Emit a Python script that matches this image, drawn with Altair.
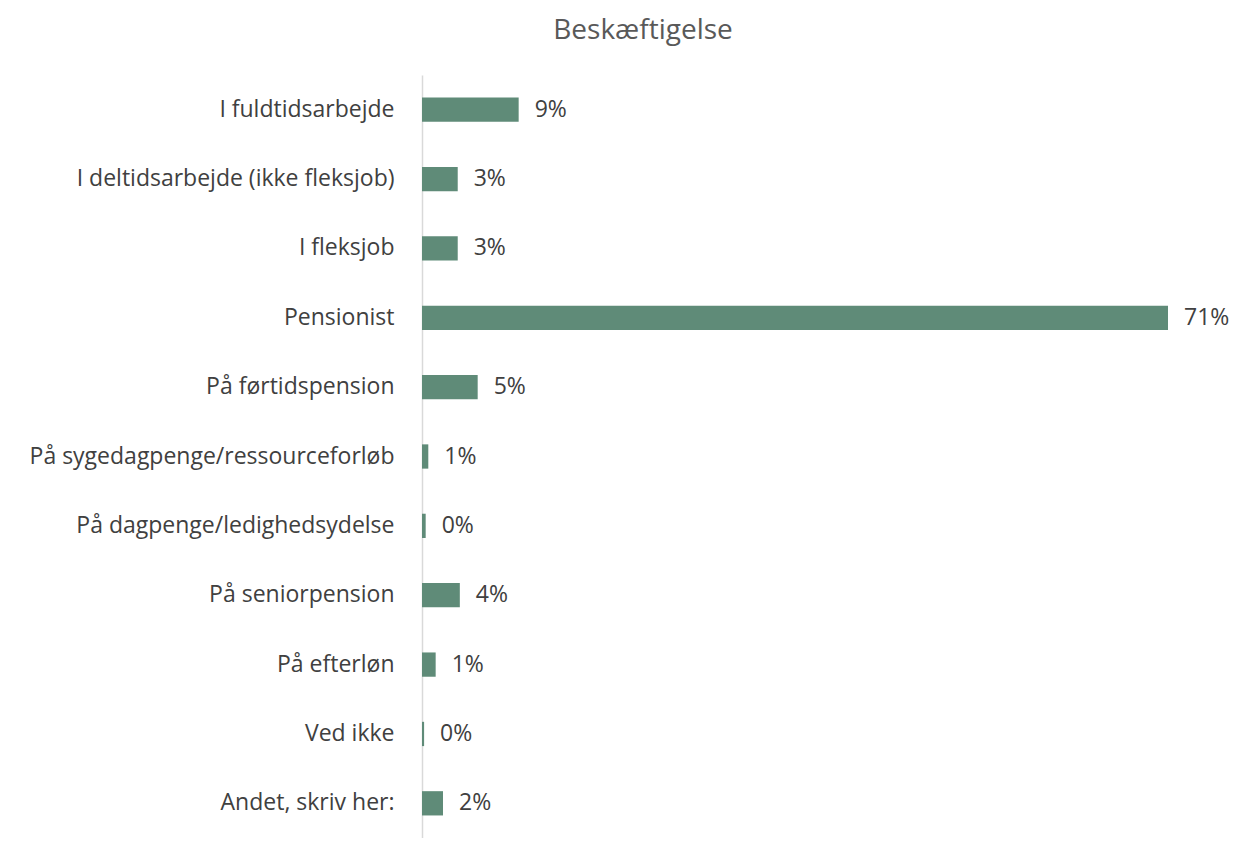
import altair as alt
import pandas as pd

categories = [
    "I fuldtidsarbejde",
    "I deltidsarbejde (ikke fleksjob)",
    "I fleksjob",
    "Pensionist",
    "På førtidspension",
    "På sygedagpenge/ressourceforløb",
    "På dagpenge/ledighedsydelse",
    "På seniorpension",
    "På efterløn",
    "Ved ikke",
    "Andet, skriv her:",
]
values = [9.2, 3.4, 3.4, 71.0, 5.3, 0.6, 0.35, 3.6, 1.3, 0.2, 2.0]
labels = ["9%", "3%", "3%", "71%", "5%", "1%", "0%", "4%", "1%", "0%", "2%"]

df = pd.DataFrame({"cat": categories, "val": values, "lab": labels})

FONT = "Open Sans"

y = alt.Y(
    "cat:N",
    sort=categories,
    scale=alt.Scale(paddingInner=0.65, paddingOuter=0.325),
    axis=alt.Axis(
        title=None,
        ticks=False,
        domainColor="#D9D9D9",
        domainWidth=1.5,
        labelFont=FONT,
        labelFontSize=23,
        labelColor="#404040",
        labelPadding=28,
        labelLimit=600,
    ),
)
x = alt.X(
    "val:Q",
    scale=alt.Scale(domain=[0, 71], nice=False),
    axis=None,
)

bars = alt.Chart(df).mark_bar(color="#5F8B78").encode(x=x, y=y)
text = alt.Chart(df).mark_text(
    align="left", baseline="middle", dx=16, font=FONT, fontSize=23, color="#404040"
).encode(x=x, y=y, text="lab:N")

chart = (
    alt.layer(bars, text)
    .properties(
        width=746,
        height=763,
        title=alt.TitleParams(
            "Beskæftigelse",
            font=FONT,
            fontSize=28,
            fontWeight="normal",
            color="#595959",
            anchor="middle",
            dx=-152,
            offset=30,
        ),
        autosize=alt.AutoSizeParams(type="none"),
        padding={"left": 414, "top": 67, "right": 66, "bottom": 0},
    )
    .configure_view(stroke=None)
    .configure_axis(grid=False)
)

chart.save("out.html", embed_options={"renderer": "svg", "actions": False})
